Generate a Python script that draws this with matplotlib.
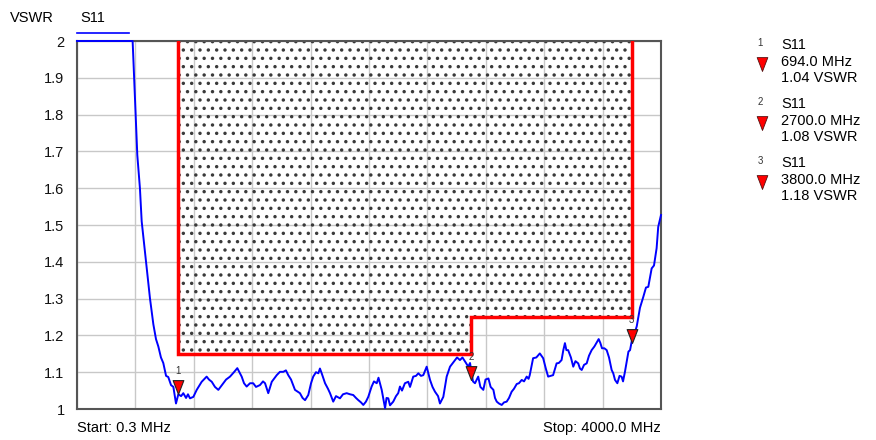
import numpy as np
import matplotlib
matplotlib.use('Agg')
import matplotlib.pyplot as plt
from matplotlib.path import Path

plt.rcParams['font.family'] = ['Liberation Sans', 'DejaVu Sans']
plt.rcParams['hatch.linewidth'] = 1.25

# S11 trace (MHz, VSWR)
freq_mhz = [0.3, 381, 402, 413, 431, 443, 473, 500, 523, 541, 557, 575, 591, 610, 625,
            644, 660, 678, 694, 713, 728, 747, 760, 774, 797, 820, 854, 888, 904, 923,
            945, 968, 1002, 1021, 1048, 1075, 1098, 1128, 1144, 1162, 1185, 1207, 1226,
            1253, 1274, 1288, 1310, 1334, 1368, 1390, 1413, 1431, 1447, 1466, 1493, 1527,
            1545, 1562, 1584, 1603, 1618, 1637, 1653, 1664, 1676, 1699, 1719, 1733, 1755,
            1774, 1801, 1822, 1847, 1870, 1892, 1911, 1927, 1945, 1961, 1979, 1995, 2018,
            2034, 2053, 2065, 2087, 2110, 2120, 2132, 2144, 2166, 2185, 2200, 2212, 2226,
            2246, 2269, 2281, 2303, 2322, 2338, 2356, 2372, 2395, 2418, 2435, 2452, 2473,
            2486, 2509, 2532, 2555, 2589, 2603, 2623, 2640, 2658, 2680, 2692, 2703, 2712,
            2726, 2748, 2763, 2783, 2798, 2818, 2833, 2852, 2863, 2875, 2890, 2909, 2925,
            2943, 2959, 2977, 2993, 3012, 3027, 3046, 3062, 3080, 3093, 3101, 3124, 3146,
            3170, 3193, 3211, 3227, 3245, 3261, 3285, 3300, 3319, 3331, 3342, 3352, 3364,
            3383, 3399, 3414, 3433, 3445, 3457, 3473, 3491, 3507, 3525, 3544, 3573, 3584,
            3596, 3612, 3628, 3644, 3662, 3673, 3685, 3701, 3716, 3730, 3740, 3753, 3777,
            3788, 3800, 3815, 3834, 3856, 3879, 3897, 3913, 3936, 3952, 3970, 3981, 4000]
vswr = [2.0, 2.0, 1.80, 1.69, 1.60, 1.51, 1.40, 1.30, 1.23, 1.19, 1.17, 1.14, 1.125, 1.09, 1.087,
        1.065, 1.06, 1.015, 1.04, 1.035, 1.043, 1.03, 1.04, 1.029, 1.033, 1.052, 1.074, 1.088, 1.08, 1.074,
        1.06, 1.052, 1.07, 1.08, 1.088, 1.10, 1.111, 1.088, 1.07, 1.061, 1.07, 1.07, 1.06,
        1.065, 1.075, 1.07, 1.043, 1.074, 1.092, 1.101, 1.101, 1.105, 1.092, 1.08, 1.052, 1.043,
        1.03, 1.024, 1.038, 1.07, 1.088, 1.10, 1.097, 1.11, 1.097, 1.07, 1.055, 1.043, 1.02,
        1.035, 1.029, 1.04, 1.043, 1.04, 1.038, 1.03, 1.024, 1.018, 1.011, 1.02, 1.033, 1.061,
        1.075, 1.07, 1.085, 1.052, 1.002, 1.03, 1.029, 1.01, 1.02, 1.035, 1.043, 1.061, 1.05,
        1.07, 1.074, 1.06, 1.088, 1.09, 1.097, 1.09, 1.092, 1.115, 1.079, 1.06, 1.047, 1.035,
        1.015, 1.033, 1.088, 1.115, 1.133, 1.14, 1.133, 1.14, 1.129, 1.115, 1.125, 1.097, 1.075,
        1.07, 1.088, 1.06, 1.052, 1.08, 1.083, 1.06, 1.052, 1.03, 1.02, 1.015, 1.011, 1.018,
        1.02, 1.03, 1.047, 1.055, 1.068, 1.07, 1.079, 1.075, 1.088, 1.082, 1.092, 1.138, 1.14,
        1.151, 1.138, 1.11, 1.088, 1.09, 1.092, 1.124, 1.125, 1.133, 1.16, 1.179, 1.16, 1.16,
        1.14, 1.115, 1.13, 1.124, 1.11, 1.106, 1.12, 1.124, 1.145, 1.16, 1.17, 1.19, 1.18,
        1.165, 1.165, 1.16, 1.14, 1.106, 1.097, 1.079, 1.07, 1.09, 1.088, 1.075, 1.101, 1.156,
        1.16, 1.185, 1.20, 1.225, 1.275, 1.305, 1.33, 1.332, 1.382, 1.39, 1.437, 1.495, 1.527]

# limit mask
mask_freqs = [694, 694, 2700, 2700, 3800, 3800]
mask_vswr = [2.0, 1.15, 1.15, 1.25, 1.25, 2.0]

# markers
marker_ids = ['1', '2', '3']
marker_freqs = [694.0, 2700.0, 3800.0]
marker_vswr = [1.04, 1.08, 1.18]

F_START = 0.3
F_STOP = 4000.0

fig = plt.figure(figsize=(8.76, 4.4), dpi=100)
ax = fig.add_axes([77 / 876, 31 / 440, 584 / 876, 368 / 440])

ax.set_xlim(0, F_STOP)
ax.set_ylim(1, 2)
ax.set_xticks(np.linspace(0, F_STOP, 11))
ax.set_yticks(np.arange(1, 2.01, 0.1))
ax.set_yticklabels(['1', '1.1', '1.2', '1.3', '1.4', '1.5', '1.6', '1.7', '1.8', '1.9', '2'])
ax.tick_params(axis='x', length=0, labelbottom=False)
ax.tick_params(axis='y', length=0, labelsize=10.5, pad=9, colors='#111111')
ax.grid(True, color='#c8c8c8', linewidth=1)
ax.set_axisbelow(True)
for s in ax.spines.values():
    s.set_color('#555555')
    s.set_linewidth(1.5)

# hatched forbidden area above the mask
ax.fill(mask_freqs, mask_vswr, facecolor='none', edgecolor='#3a3a3a',
        hatch='..', linewidth=0, zorder=1)
ax.plot(mask_freqs, mask_vswr, color='#ff0000', linewidth=2.5, zorder=3,
        solid_joinstyle='miter')

ax.plot(freq_mhz, vswr, color='#0000ff', linewidth=1.4, zorder=4, clip_on=False)

tip = Path([(0, 0), (-0.5, 1.3), (0.5, 1.3), (0, 0)],
           [Path.MOVETO, Path.LINETO, Path.LINETO, Path.CLOSEPOLY])
ax.scatter(marker_freqs, marker_vswr, marker=tip, s=400, color='#ff0000',
           edgecolors='#222222', linewidths=0.8, zorder=5)
for m, f, v in zip(marker_ids, marker_freqs, marker_vswr):
    ax.annotate(m, (f, v), xytext=(0, 13), textcoords='offset points',
                ha='center', va='bottom', fontsize=7, color='#333333', zorder=6)

fig.text(10 / 876, 1 - 18 / 440, 'VSWR', fontsize=10.5, va='center', ha='left')
fig.text(80 / 876, 1 - 18 / 440, 'S11', fontsize=10.5, va='center', ha='left')
fig.add_artist(plt.Line2D([77 / 876, 129 / 876], [1 - 33 / 440, 1 - 33 / 440],
                          color='#0000ff', linewidth=1.2))
fig.text(77 / 876, 1 - 428 / 440, 'Start: %.1f MHz' % F_START, fontsize=10.5,
         va='center', ha='left')
fig.text(661 / 876, 1 - 428 / 440, 'Stop: %.1f MHz' % F_STOP, fontsize=10.5,
         va='center', ha='right')

# marker table on the right
for i, (m, f, v) in enumerate(zip(marker_ids, marker_freqs, marker_vswr)):
    y0 = 45 + i * 59
    fig.text(760 / 876, 1 - (y0 - 2) / 440, m, fontsize=7, ha='center', va='center',
             color='#333333')
    fig.text(781 / 876, 1 - y0 / 440, 'S11', fontsize=10.5, va='center')
    fig.text(781 / 876, 1 - (y0 + 17) / 440, '%.1f MHz' % f, fontsize=10.5, va='center')
    fig.text(781 / 876, 1 - (y0 + 33) / 440, '%.2f VSWR' % v, fontsize=10.5, va='center')
    fig.add_artist(plt.Line2D([762 / 876], [1 - (y0 + 26) / 440], marker=tip,
                              markersize=20, color='#ff0000',
                              markeredgecolor='#551111', markeredgewidth=0.6))

fig.savefig('out.png', dpi=100)
